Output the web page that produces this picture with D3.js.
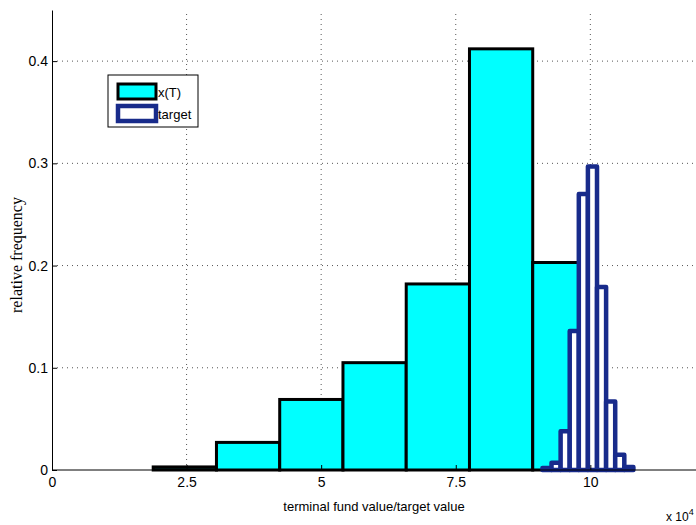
<!DOCTYPE html>
<html>
<meta charset="utf-8">
<script src="https://d3js.org/d3.v7.min.js"></script>
<style>
body{ margin:0; background:white; }
.tick text{ font-family: "Liberation Sans", Arial, sans-serif; font-size:14px; fill:#000; }
.grid line{ stroke:#555; stroke-width:1; stroke-dasharray:1,4; }
</style>
<body>
<div id="chart"></div>
<script>
// x(T) histogram: bin edges (units of 1e4) and relative frequencies
var fundEdges = [1.88, 3.055, 4.23, 5.405, 6.58, 7.755, 8.93, 10.105];
var fundFreq  = [0.003, 0.027, 0.069, 0.105, 0.182, 0.412, 0.203];

// target histogram
var targetEdges = [9.11, 9.279, 9.448, 9.617, 9.786, 9.955, 10.124, 10.293, 10.462, 10.631, 10.80];
var targetFreq  = [0.002, 0.007, 0.038, 0.136, 0.270, 0.297, 0.179, 0.067, 0.015, 0.003];

var xTicks = [0, 2.5, 5, 7.5, 10];
var yTicks = [0, 0.1, 0.2, 0.3, 0.4];

var width = 696, height = 525;
var margin = {left:52, right:0, top:10, bottom:55};

var svg = d3.select("#chart").append("svg").attr("width",width).attr("height",height);

var x = d3.scaleLinear().domain([0,12]).range([margin.left, 698]);
var y = d3.scaleLinear().domain([0,0.45]).range([height-margin.bottom, margin.top]);

// grid
var grid = svg.append("g").attr("class","grid");
grid.selectAll(".vx").data(xTicks.slice(1)).enter().append("line")
  .attr("x1",function(d){return x(d)}).attr("x2",function(d){return x(d)})
  .attr("y1",y(0)).attr("y2",margin.top);
grid.selectAll(".hy").data(yTicks.slice(1)).enter().append("line")
  .attr("x1",x(0)).attr("x2",width)
  .attr("y1",function(d){return y(d)}).attr("y2",function(d){return y(d)});

function bins(edges, freq){
  return freq.map(function(f,i){ return {x0:edges[i], x1:edges[i+1], f:f}; });
}

// x(T) bars
svg.append("g").selectAll("rect").data(bins(fundEdges,fundFreq)).enter().append("rect")
  .attr("x",function(d){return x(d.x0)})
  .attr("width",function(d){return x(d.x1)-x(d.x0)})
  .attr("y",function(d){return y(d.f)})
  .attr("height",function(d){return y(0)-y(d.f)})
  .attr("fill","#00ffff").attr("stroke","#000").attr("stroke-width",3);

// target bars
svg.append("g").selectAll("rect").data(bins(targetEdges,targetFreq)).enter().append("rect")
  .attr("x",function(d){return x(d.x0)})
  .attr("width",function(d){return x(d.x1)-x(d.x0)})
  .attr("y",function(d){return y(d.f)})
  .attr("height",function(d){return y(0)-y(d.f)})
  .attr("fill","#fff").attr("stroke","#182b8b").attr("stroke-width",4.5)
  .attr("stroke-linejoin","round");

// axes (ticks inside)
var xAxis = svg.append("g").attr("transform","translate(0,"+y(0)+")")
  .call(d3.axisBottom(x).tickValues(xTicks).tickFormat(d3.format("")).tickSizeInner(-5).tickSizeOuter(0).tickPadding(7));
xAxis.select(".domain").attr("stroke","#000").attr("d","M"+x(0)+",0H"+width);
var yAxis = svg.append("g").attr("transform","translate("+x(0)+",0)")
  .call(d3.axisLeft(y).tickValues(yTicks).tickFormat(function(d){return d===0?"0":d3.format(".1f")(d)}).tickSizeInner(-5).tickSizeOuter(0).tickPadding(4));
yAxis.select(".domain").attr("stroke","#000");
svg.selectAll(".tick line").attr("stroke","#000");

// labels
svg.append("text").attr("x",374).attr("y",511)
  .attr("text-anchor","middle")
  .style("font-family","Liberation Sans, Arial, sans-serif").style("font-size","13px")
  .text("terminal fund value/target value");
var sc = svg.append("text").attr("x",666).attr("y",521)
  .style("font-family","Liberation Sans, Arial, sans-serif").style("font-size","12px");
sc.append("tspan").text("x 10");
sc.append("tspan").attr("dy",-6).style("font-size","9px").text("4");

svg.append("text").attr("transform","translate(22,255) rotate(-90)")
  .attr("text-anchor","middle")
  .style("font-family","Liberation Serif, Times New Roman, serif").style("font-size","16px")
  .text("relative frequency");

// legend
var leg = svg.append("g");
leg.append("rect").attr("x",108).attr("y",75).attr("width",90).attr("height",52)
  .attr("fill","#fff").attr("stroke","#000").attr("stroke-width",1);
leg.append("rect").attr("x",118).attr("y",84).attr("width",38).attr("height",15)
  .attr("fill","#00ffff").attr("stroke","#000").attr("stroke-width",3);
leg.append("rect").attr("x",118).attr("y",106).attr("width",38).attr("height",15)
  .attr("fill","#fff").attr("stroke","#182b8b").attr("stroke-width",4.5);
leg.append("text").attr("x",158).attr("y",97).text("x(T)")
  .style("font-family","Liberation Sans, Arial, sans-serif").style("font-size","13px");
leg.append("text").attr("x",158).attr("y",119).text("target")
  .style("font-family","Liberation Sans, Arial, sans-serif").style("font-size","13px");
</script>
</body>
</html>
